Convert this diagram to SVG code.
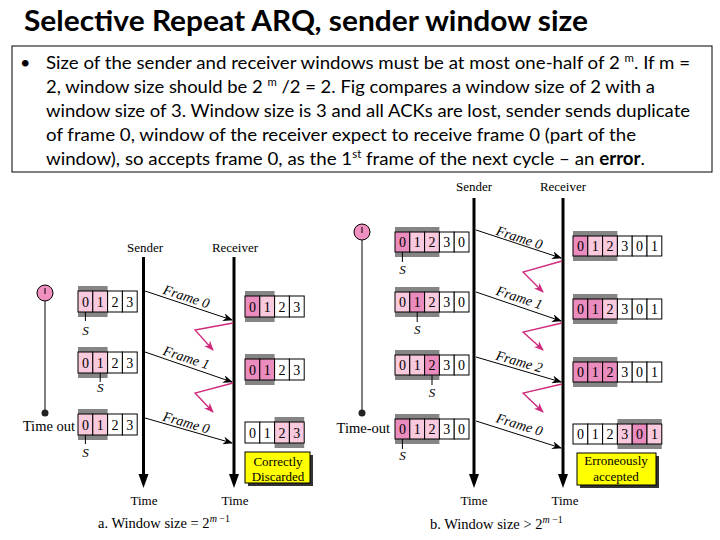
<svg xmlns="http://www.w3.org/2000/svg" width="720" height="540" viewBox="0 0 720 540">
<style>
.ttl{font-family:Lato,"Liberation Sans",sans-serif;font-weight:bold;font-size:29px;fill:#000}
.bd{font-family:Lato,"Liberation Sans",sans-serif;font-size:18px;fill:#000}
.sf{font-family:"Liberation Serif",serif;fill:#000}
.lb{font-size:13px;text-anchor:middle}
.dg{font-size:14px;text-anchor:middle}
.fr{font-size:14px;font-style:italic;text-anchor:middle}
.s{font-size:13px;font-style:italic;text-anchor:middle}
.gb{fill:#858585}
.cw{fill:#fff;stroke:#000;stroke-width:1}
.cl{fill:#f9c9de;stroke:#000;stroke-width:1}
.cd{fill:#ea8cbd;stroke:#000;stroke-width:1}
.tk{stroke:#000;stroke-width:1}
.tl{stroke:#000;stroke-width:3}
.fa{stroke:#000;stroke-width:1;fill:none;marker-end:url(#ah)}
.ak{stroke:#d0287a;stroke-width:1.3;fill:none;marker-end:url(#mh)}
.yb{fill:#ffff00;stroke:#000;stroke-width:1}
.sh{fill:#333}
.tm{fill:#f090c0;stroke:#000;stroke-width:1}
</style>
<defs>
<marker id="ah" markerWidth="10" markerHeight="8" refX="9" refY="4" orient="auto" markerUnits="userSpaceOnUse">
<path d="M0,0 L10,4 L0,8 L3,4 z" fill="#000"/>
</marker>
<marker id="mh" markerWidth="10" markerHeight="8" refX="9" refY="4" orient="auto" markerUnits="userSpaceOnUse">
<path d="M0,0 L10,4 L0,8 L3,4 z" fill="#d0287a"/>
</marker>
</defs>

<g id="title">
<text class="ttl" x="24" y="31" textLength="564" lengthAdjust="spacingAndGlyphs">Selective Repeat ARQ, sender window size</text>
</g>

<g id="textbox">
<rect x="12" y="46" width="700" height="126" fill="none" stroke="#000" stroke-width="1"/>
<text class="bd" x="20" y="69">•</text>
<text class="bd" x="46" y="69" textLength="644" lengthAdjust="spacingAndGlyphs">Size of the sender and receiver windows must be at most one-half of 2 <tspan dy="-7" font-size="11">m</tspan><tspan dy="7">. If m =</tspan></text>
<text class="bd" x="46" y="93" textLength="609" lengthAdjust="spacingAndGlyphs">2, window size should be 2 <tspan dy="-7" font-size="11">m</tspan><tspan dy="7"> /2 = 2. Fig compares a window size of 2 with a</tspan></text>
<text class="bd" x="46" y="117" textLength="644" lengthAdjust="spacingAndGlyphs">window size of 3. Window size is 3 and all ACKs are lost, sender sends duplicate</text>
<text class="bd" x="46" y="141" textLength="590" lengthAdjust="spacingAndGlyphs">of frame 0, window of the receiver expect to receive frame 0 (part of the</text>
<text class="bd" x="46" y="165" textLength="599" lengthAdjust="spacingAndGlyphs">window), so accepts frame 0, as the 1<tspan dy="-7" font-size="11">st</tspan><tspan dy="7"> frame of the next cycle – an </tspan><tspan font-weight="bold">error</tspan>.</text>
</g>

<!-- ============ Figure a ============ -->
<g id="a-labels">
<text class="sf lb" x="145" y="252">Sender</text>
<text class="sf lb" x="235" y="252">Receiver</text>
<text class="sf lb" x="144" y="505" font-size="15">Time</text>
<text class="sf lb" x="235" y="505" font-size="15">Time</text>
<text class="sf" x="98" y="528" font-size="14.5">a. Window size = 2<tspan dy="-6" font-size="10" font-style="italic">m</tspan><tspan dy="0" font-size="10"> −1</tspan></text>
</g>

<g id="a-timer">
<line class="tk" x1="45" y1="301" x2="45" y2="413"/>
<circle class="tm" cx="45" cy="293" r="8"/>
<line class="tk" x1="45" y1="288" x2="45" y2="294"/>
<circle cx="45" cy="413" r="3.5" fill="#222"/>
<text class="sf" x="75" y="431" font-size="14.5" text-anchor="end">Time out</text>
</g>

<g id="a-timelines">
<line class="tl" x1="143.5" y1="257" x2="143.5" y2="476"/>
<path d="M138.5,474 L148.5,474 L143.5,488 z" fill="#000"/>
<line class="tl" x1="234" y1="257" x2="234" y2="476"/>
<path d="M229,474 L239,474 L234,488 z" fill="#000"/>
</g>

<g id="a-s1" transform="translate(78,291)">
<rect class="gb" x="0" y="-5" width="29.6" height="31"/>
<rect class="cl" x="0" y="0" width="14.8" height="21"/><rect class="cl" x="14.8" y="0" width="14.8" height="21"/>
<rect class="cw" x="29.6" y="0" width="14.8" height="21"/><rect class="cw" x="44.4" y="0" width="14.8" height="21"/>
<text class="sf dg" x="7.4" y="15.5">0</text><text class="sf dg" x="22.2" y="15.5">1</text><text class="sf dg" x="37" y="15.5">2</text><text class="sf dg" x="51.8" y="15.5">3</text>
<line class="tk" x1="7.4" y1="21" x2="7.4" y2="30"/>
<text class="sf s" x="7.4" y="44">S</text>
</g>
<g id="a-s2" transform="translate(78,352)">
<rect class="gb" x="0" y="-5" width="29.6" height="31"/>
<rect class="cl" x="0" y="0" width="14.8" height="21"/><rect class="cl" x="14.8" y="0" width="14.8" height="21"/>
<rect class="cw" x="29.6" y="0" width="14.8" height="21"/><rect class="cw" x="44.4" y="0" width="14.8" height="21"/>
<text class="sf dg" x="7.4" y="15.5">0</text><text class="sf dg" x="22.2" y="15.5">1</text><text class="sf dg" x="37" y="15.5">2</text><text class="sf dg" x="51.8" y="15.5">3</text>
<line class="tk" x1="22.2" y1="21" x2="22.2" y2="30"/>
<text class="sf s" x="22.2" y="40">S</text>
</g>
<g id="a-s3" transform="translate(78,414)">
<rect class="gb" x="0" y="-5" width="29.6" height="31"/>
<rect class="cl" x="0" y="0" width="14.8" height="21"/><rect class="cl" x="14.8" y="0" width="14.8" height="21"/>
<rect class="cw" x="29.6" y="0" width="14.8" height="21"/><rect class="cw" x="44.4" y="0" width="14.8" height="21"/>
<text class="sf dg" x="7.4" y="15.5">0</text><text class="sf dg" x="22.2" y="15.5">1</text><text class="sf dg" x="37" y="15.5">2</text><text class="sf dg" x="51.8" y="15.5">3</text>
<line class="tk" x1="7.4" y1="21" x2="7.4" y2="30"/>
<text class="sf s" x="7.4" y="43">S</text>
</g>

<g id="a-r1" transform="translate(245,296)">
<rect class="gb" x="0" y="-5" width="29.6" height="31"/>
<rect class="cd" x="0" y="0" width="14.8" height="21"/><rect class="cl" x="14.8" y="0" width="14.8" height="21"/>
<rect class="cw" x="29.6" y="0" width="14.8" height="21"/><rect class="cw" x="44.4" y="0" width="14.8" height="21"/>
<text class="sf dg" x="7.4" y="15.5">0</text><text class="sf dg" x="22.2" y="15.5">1</text><text class="sf dg" x="37" y="15.5">2</text><text class="sf dg" x="51.8" y="15.5">3</text>
</g>
<g id="a-r2" transform="translate(245,359)">
<rect class="gb" x="0" y="-5" width="29.6" height="31"/>
<rect class="cd" x="0" y="0" width="14.8" height="21"/><rect class="cd" x="14.8" y="0" width="14.8" height="21"/>
<rect class="cw" x="29.6" y="0" width="14.8" height="21"/><rect class="cw" x="44.4" y="0" width="14.8" height="21"/>
<text class="sf dg" x="7.4" y="15.5">0</text><text class="sf dg" x="22.2" y="15.5">1</text><text class="sf dg" x="37" y="15.5">2</text><text class="sf dg" x="51.8" y="15.5">3</text>
</g>
<g id="a-r3" transform="translate(245,422)">
<rect class="gb" x="29.6" y="-5" width="29.6" height="31"/>
<rect class="cw" x="0" y="0" width="14.8" height="21"/><rect class="cw" x="14.8" y="0" width="14.8" height="21"/>
<rect class="cl" x="29.6" y="0" width="14.8" height="21"/><rect class="cl" x="44.4" y="0" width="14.8" height="21"/>
<text class="sf dg" x="7.4" y="15.5">0</text><text class="sf dg" x="22.2" y="15.5">1</text><text class="sf dg" x="37" y="15.5">2</text><text class="sf dg" x="51.8" y="15.5">3</text>
</g>

<g id="a-note">
<rect class="sh" x="248" y="455" width="65" height="31"/>
<rect class="yb" x="245" y="452" width="65" height="31"/>
<text class="sf lb" x="278" y="466" font-size="14">Correctly</text>
<text class="sf lb" x="278" y="481" font-size="14">Discarded</text>
</g>

<!-- ============ Figure b ============ -->
<g id="b-labels">
<text class="sf lb" x="474" y="191">Sender</text>
<text class="sf lb" x="563" y="191">Receiver</text>
<text class="sf lb" x="474" y="505" font-size="15">Time</text>
<text class="sf lb" x="565" y="505" font-size="15">Time</text>
<text class="sf" x="430" y="529" font-size="14.5">b. Window size &gt; 2<tspan dy="-6" font-size="10" font-style="italic">m</tspan><tspan dy="0" font-size="10"> −1</tspan></text>
</g>

<g id="b-timer">
<line class="tk" x1="362" y1="240" x2="362" y2="413"/>
<circle class="tm" cx="362" cy="232" r="8"/>
<line class="tk" x1="362" y1="227" x2="362" y2="233"/>
<circle cx="362" cy="413" r="3.5" fill="#222"/>
<text class="sf" x="390" y="433" font-size="14.5" text-anchor="end">Time-out</text>
</g>

<g id="b-timelines">
<line class="tl" x1="474" y1="198" x2="474" y2="476"/>
<path d="M469,474 L479,474 L474,488 z" fill="#000"/>
<line class="tl" x1="563" y1="198" x2="563" y2="476"/>
<path d="M558,474 L568,474 L563,488 z" fill="#000"/>
</g>

<g id="b-s1" transform="translate(395,232)">
<rect class="gb" x="0" y="-5" width="44.4" height="30"/>
<rect class="cd" x="0" y="0" width="14.8" height="20"/><rect class="cl" x="14.8" y="0" width="14.8" height="20"/><rect class="cl" x="29.6" y="0" width="14.8" height="20"/>
<rect class="cw" x="44.4" y="0" width="14.8" height="20"/><rect class="cw" x="59.2" y="0" width="14.8" height="20"/>
<text class="sf dg" x="7.4" y="15">0</text><text class="sf dg" x="22.2" y="15">1</text><text class="sf dg" x="37" y="15">2</text><text class="sf dg" x="51.8" y="15">3</text><text class="sf dg" x="66.6" y="15">0</text>
<line class="tk" x1="7.4" y1="20" x2="7.4" y2="30"/>
<text class="sf s" x="7.4" y="42">S</text>
</g>
<g id="b-s2" transform="translate(395,292)">
<rect class="gb" x="0" y="-5" width="44.4" height="30"/>
<rect class="cl" x="0" y="0" width="14.8" height="20"/><rect class="cd" x="14.8" y="0" width="14.8" height="20"/><rect class="cl" x="29.6" y="0" width="14.8" height="20"/>
<rect class="cw" x="44.4" y="0" width="14.8" height="20"/><rect class="cw" x="59.2" y="0" width="14.8" height="20"/>
<text class="sf dg" x="7.4" y="15">0</text><text class="sf dg" x="22.2" y="15">1</text><text class="sf dg" x="37" y="15">2</text><text class="sf dg" x="51.8" y="15">3</text><text class="sf dg" x="66.6" y="15">0</text>
<line class="tk" x1="22.2" y1="20" x2="22.2" y2="30"/>
<text class="sf s" x="22.2" y="42">S</text>
</g>
<g id="b-s3" transform="translate(395,355)">
<rect class="gb" x="0" y="-5" width="44.4" height="30"/>
<rect class="cl" x="0" y="0" width="14.8" height="20"/><rect class="cl" x="14.8" y="0" width="14.8" height="20"/><rect class="cd" x="29.6" y="0" width="14.8" height="20"/>
<rect class="cw" x="44.4" y="0" width="14.8" height="20"/><rect class="cw" x="59.2" y="0" width="14.8" height="20"/>
<text class="sf dg" x="7.4" y="15">0</text><text class="sf dg" x="22.2" y="15">1</text><text class="sf dg" x="37" y="15">2</text><text class="sf dg" x="51.8" y="15">3</text><text class="sf dg" x="66.6" y="15">0</text>
<line class="tk" x1="37" y1="20" x2="37" y2="30"/>
<text class="sf s" x="37" y="42">S</text>
</g>
<g id="b-s4" transform="translate(395,419)">
<rect class="gb" x="0" y="-5" width="44.4" height="30"/>
<rect class="cd" x="0" y="0" width="14.8" height="20"/><rect class="cl" x="14.8" y="0" width="14.8" height="20"/><rect class="cl" x="29.6" y="0" width="14.8" height="20"/>
<rect class="cw" x="44.4" y="0" width="14.8" height="20"/><rect class="cw" x="59.2" y="0" width="14.8" height="20"/>
<text class="sf dg" x="7.4" y="15">0</text><text class="sf dg" x="22.2" y="15">1</text><text class="sf dg" x="37" y="15">2</text><text class="sf dg" x="51.8" y="15">3</text><text class="sf dg" x="66.6" y="15">0</text>
<line class="tk" x1="7.4" y1="20" x2="7.4" y2="30"/>
<text class="sf s" x="7.4" y="41">S</text>
</g>

<g id="b-r1" transform="translate(573,236)">
<rect class="gb" x="0" y="-5" width="44.4" height="30"/>
<rect class="cd" x="0" y="0" width="14.8" height="20"/><rect class="cl" x="14.8" y="0" width="14.8" height="20"/><rect class="cl" x="29.6" y="0" width="14.8" height="20"/>
<rect class="cw" x="44.4" y="0" width="14.8" height="20"/><rect class="cw" x="59.2" y="0" width="14.8" height="20"/><rect class="cw" x="74" y="0" width="14.8" height="20"/>
<text class="sf dg" x="7.4" y="15">0</text><text class="sf dg" x="22.2" y="15">1</text><text class="sf dg" x="37" y="15">2</text><text class="sf dg" x="51.8" y="15">3</text><text class="sf dg" x="66.6" y="15">0</text><text class="sf dg" x="81.4" y="15">1</text>
</g>
<g id="b-r2" transform="translate(573,299)">
<rect class="gb" x="0" y="-5" width="44.4" height="30"/>
<rect class="cd" x="0" y="0" width="14.8" height="20"/><rect class="cd" x="14.8" y="0" width="14.8" height="20"/><rect class="cl" x="29.6" y="0" width="14.8" height="20"/>
<rect class="cw" x="44.4" y="0" width="14.8" height="20"/><rect class="cw" x="59.2" y="0" width="14.8" height="20"/><rect class="cw" x="74" y="0" width="14.8" height="20"/>
<text class="sf dg" x="7.4" y="15">0</text><text class="sf dg" x="22.2" y="15">1</text><text class="sf dg" x="37" y="15">2</text><text class="sf dg" x="51.8" y="15">3</text><text class="sf dg" x="66.6" y="15">0</text><text class="sf dg" x="81.4" y="15">1</text>
</g>
<g id="b-r3" transform="translate(573,362)">
<rect class="gb" x="0" y="-5" width="44.4" height="30"/>
<rect class="cd" x="0" y="0" width="14.8" height="20"/><rect class="cd" x="14.8" y="0" width="14.8" height="20"/><rect class="cd" x="29.6" y="0" width="14.8" height="20"/>
<rect class="cw" x="44.4" y="0" width="14.8" height="20"/><rect class="cw" x="59.2" y="0" width="14.8" height="20"/><rect class="cw" x="74" y="0" width="14.8" height="20"/>
<text class="sf dg" x="7.4" y="15">0</text><text class="sf dg" x="22.2" y="15">1</text><text class="sf dg" x="37" y="15">2</text><text class="sf dg" x="51.8" y="15">3</text><text class="sf dg" x="66.6" y="15">0</text><text class="sf dg" x="81.4" y="15">1</text>
</g>
<g id="b-r4" transform="translate(573,424)">
<rect class="gb" x="44.4" y="-5" width="44.4" height="30"/>
<rect class="cw" x="0" y="0" width="14.8" height="20"/><rect class="cw" x="14.8" y="0" width="14.8" height="20"/><rect class="cw" x="29.6" y="0" width="14.8" height="20"/>
<rect class="cl" x="44.4" y="0" width="14.8" height="20"/><rect class="cd" x="59.2" y="0" width="14.8" height="20"/><rect class="cl" x="74" y="0" width="14.8" height="20"/>
<text class="sf dg" x="7.4" y="15">0</text><text class="sf dg" x="22.2" y="15">1</text><text class="sf dg" x="37" y="15">2</text><text class="sf dg" x="51.8" y="15">3</text><text class="sf dg" x="66.6" y="15">0</text><text class="sf dg" x="81.4" y="15">1</text>
</g>

<g id="b-note">
<rect class="sh" x="580" y="456" width="79" height="32"/>
<rect class="yb" x="577" y="453" width="79" height="32"/>
<text class="sf lb" x="616" y="465" font-size="14">Erroneously</text>
<text class="sf lb" x="616" y="481" font-size="14">accepted</text>
</g>

<g id="connectors">
<line class="fa" x1="145" y1="291" x2="232" y2="320"/>
<line class="fa" x1="145" y1="352" x2="232" y2="382"/>
<line class="fa" x1="145" y1="418" x2="232" y2="443"/>
<polyline class="ak" points="233,323 195,330 213,350"/>
<polyline class="ak" points="233,383 195,393 213,412"/>
<line class="fa" x1="476" y1="230" x2="561" y2="258"/>
<line class="fa" x1="476" y1="292" x2="561" y2="321"/>
<line class="fa" x1="476" y1="357" x2="561" y2="382"/>
<line class="fa" x1="476" y1="421" x2="561" y2="448"/>
<polyline class="ak" points="562,261 523,272 543,292"/>
<polyline class="ak" points="562,323 523,332 543,350"/>
<polyline class="ak" points="562,384 523,393 543,412"/>
<text class="sf fr" transform="translate(185,301) rotate(18)">Frame 0</text>
<text class="sf fr" transform="translate(185,362) rotate(18)">Frame 1</text>
<text class="sf fr" transform="translate(185,427) rotate(16)">Frame 0</text>
<text class="sf fr" transform="translate(518,242) rotate(18)">Frame 0</text>
<text class="sf fr" transform="translate(518,302) rotate(18)">Frame 1</text>
<text class="sf fr" transform="translate(518,366) rotate(16)">Frame 2</text>
<text class="sf fr" transform="translate(518,429) rotate(17)">Frame 0</text>
</g>
</svg>
